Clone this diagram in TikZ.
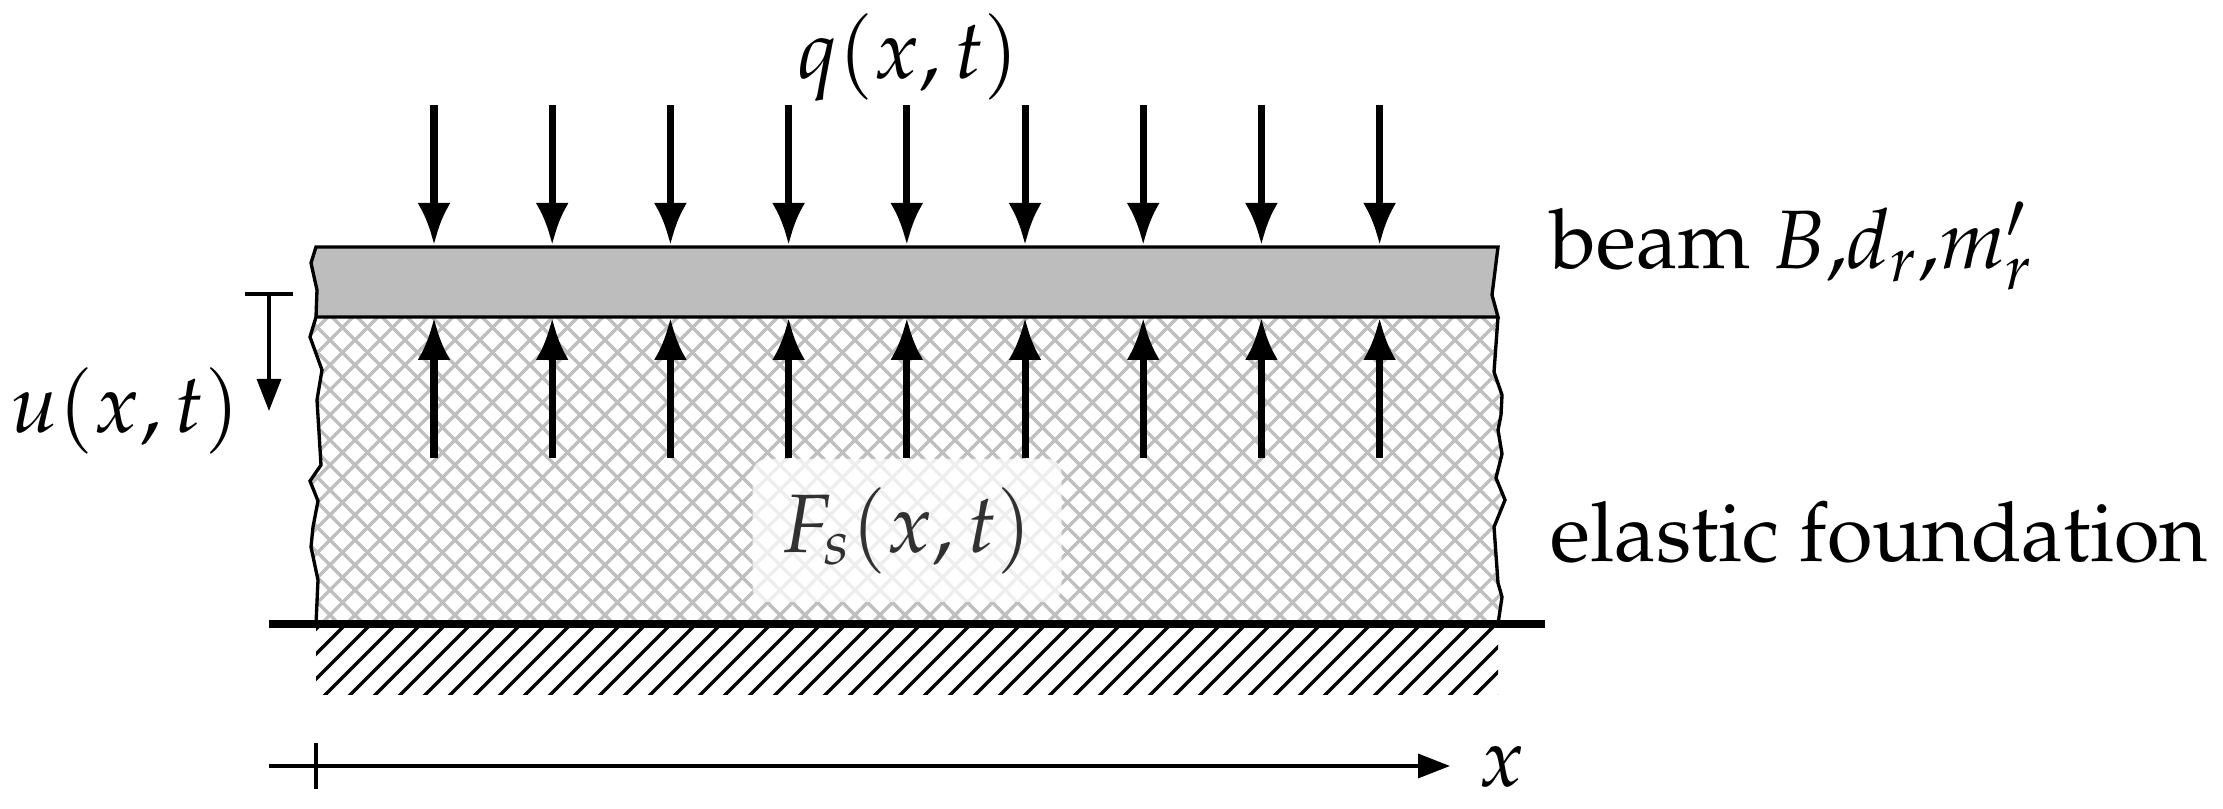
\documentclass[tikz,border=0pt]{standalone}
\usepackage[T1]{fontenc}
\usepackage{mathpazo}
\usetikzlibrary{arrows.meta}
\tikzset{
  label text/.style={inner sep=0pt, font=\fontsize{23.6}{28}\selectfont},
  edge line/.style={line width=.95pt, line join=miter},
  load arrow/.style={line width=2pt, -{Latex[length=4.2mm,width=3.3mm]}},
  thin arrow/.style={line width=.95pt, -{Triangle[length=3.2mm,width=2.4mm]}},
}
\begin{document}
\begin{tikzpicture}
        \useasboundingbox (0,0) rectangle (22.23,8.09);

        % foundation, cross hatched
        \begin{scope}
        \clip (3.16,4.92) -- (3.10,4.72) -- (3.22,4.39) -- (3.17,4.09) -- (3.21,3.44) -- (3.10,3.28) -- (3.18,3.08) -- (3.13,2.82) -- (3.11,2.62) -- (3.18,2.29) -- (3.16,1.85)
          -- (14.98,1.85) -- (15.02,2.12) -- (14.98,2.26) -- (14.94,2.82) -- (15.05,3.09) -- (14.96,3.31) -- (15.02,3.55) -- (14.98,3.79) -- (15.01,3.94) -- (15.02,4.14) -- (14.94,4.37) -- (14.98,4.92) -- cycle;
        \foreach \c in {-1.89,-1.64,...,13.4}
            \draw[line width=.95pt, color=black!25] (\c,0) -- (\c+6,6);
        \foreach \c in {4.74,4.99,...,20.1}
            \draw[line width=.95pt, color=black!25] (\c,0) -- (\c-6,6);
        \end{scope}
        \draw[edge line] (3.16,4.92) -- (3.10,4.72) -- (3.22,4.39) -- (3.17,4.09) -- (3.21,3.44) -- (3.10,3.28) -- (3.18,3.08) -- (3.13,2.82) -- (3.11,2.62) -- (3.18,2.29) -- (3.16,1.85);
        \draw[edge line] (14.98,1.85) -- (15.02,2.12) -- (14.98,2.26) -- (14.94,2.82) -- (15.05,3.09) -- (14.96,3.31) -- (15.02,3.55) -- (14.98,3.79) -- (15.01,3.94) -- (15.02,4.14) -- (14.94,4.37) -- (14.98,4.92);

        % beam
        \draw[edge line, fill=black!26] (3.16,5.62) -- (3.11,5.46) -- (3.17,5.19) -- (3.16,4.92) -- (14.98,4.92) -- (14.92,5.14) -- (14.98,5.62) -- cycle;

        % ground
        \begin{scope}
        \clip (3.16,1.14) rectangle (14.98,1.85);
        \foreach \c in {1.36,1.61,...,13.9}
            \draw[line width=.95pt] (\c,0) -- (\c+3,3);
        \end{scope}
        \coordinate (GL) at (2.69,1.85);
        \coordinate (GR) at (15.45,1.85);
        \draw[line width=2pt] (GL) -- (GR);

        % loads on the beam, reactions of the foundation
        \foreach \i in {0,...,8} {
            \coordinate (Q\i) at (4.34+1.182*\i,7.04);
            \coordinate (P\i) at (4.34+1.182*\i,5.64);
            \coordinate (S\i) at (4.34+1.182*\i,3.51);
            \coordinate (R\i) at (4.34+1.182*\i,4.91);
            \draw[load arrow] (Q\i) -- (P\i);
            \draw[load arrow] (S\i) -- (R\i);
        }

        % displacement
        \coordinate (UL) at (2.45,5.15);
        \coordinate (UR) at (2.93,5.15);
        \coordinate (U0) at (2.69,5.15);
        \coordinate (U1) at (2.69,3.98);
        \draw[line width=.95pt] (UL) -- (UR);
        \draw[thin arrow] (U0) -- (U1);

        % x axis
        \coordinate (X0) at (2.69,.43);
        \coordinate (X1) at (14.50,.43);
        \coordinate (T0) at (3.16,.66);
        \coordinate (T1) at (3.16,.20);
        \draw[thin arrow] (X0) -- (X1);
        \draw[line width=.95pt] (T0) -- (T1);

        \node[label text, anchor=base west] (qlabel) at (7.97,7.30) {$q(x,t)$};
        \node[label text, anchor=base west] (ulabel) at (.10,3.76) {$u(x,t)$};
        \node[label text, anchor=base west] (xlabel) at (14.78,.22) {$x$};
        \node[label text, anchor=base west] (beamlabel) at (15.50,5.40) {beam $B$,$d_r$,$m'_r$};
        \node[label text, anchor=base west] (elasticlabel) at (15.50,2.47) {elastic foundation};
        \node[label text, fill=white, fill opacity=.75, text opacity=.8, rounded corners=4pt, minimum width=3.09cm, minimum height=1.43cm] (fslabel) at (9.07,2.785) {$F_s(x,t)$};
        \end{tikzpicture}
\end{document}
